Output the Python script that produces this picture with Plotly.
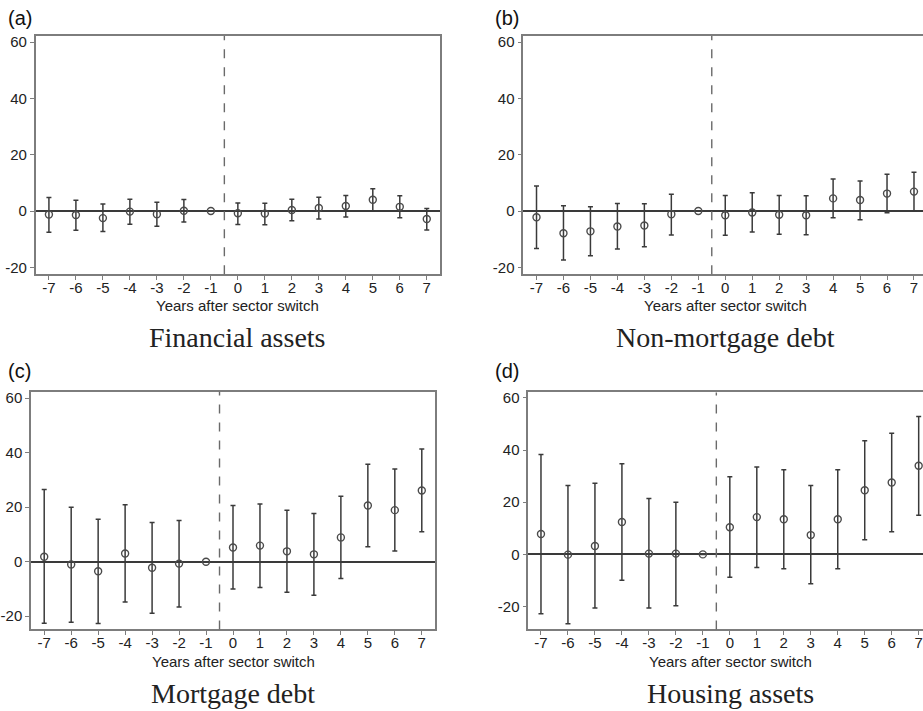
import plotly.graph_objects as go

W, H = 923, 711

years = [-7, -6, -5, -4, -3, -2, -1, 0, 1, 2, 3, 4, 5, 6, 7]

# Panel (a) Financial assets
fin_est = [-1.2, -1.4, -2.5, -0.2, -1.1, 0.1, 0.0, -0.8, -0.9, 0.4, 1.1, 1.8, 4.0, 1.5, -2.8]
fin_hi = [4.8, 3.8, 2.5, 4.2, 3.1, 4.1, 0.0, 2.9, 2.8, 4.2, 4.9, 5.5, 7.9, 5.4, 0.9]
fin_lo = [-7.5, -6.8, -7.3, -4.7, -5.4, -3.9, 0.0, -4.8, -4.9, -3.4, -2.8, -2.1, 0.0, -2.4, -6.7]

# Panel (b) Non-mortgage debt
nmd_est = [-2.2, -7.9, -7.2, -5.5, -5.1, -1.1, 0.0, -1.5, -0.5, -1.3, -1.5, 4.5, 3.9, 6.2, 6.9]
nmd_hi = [8.9, 1.9, 1.5, 2.7, 2.6, 6.0, 0.0, 5.5, 6.5, 5.5, 5.4, 11.4, 10.7, 13.1, 13.8]
nmd_lo = [-13.3, -17.4, -15.9, -13.5, -12.7, -8.5, 0.0, -8.6, -7.4, -8.2, -8.4, -2.4, -3.1, -0.6, 0.0]

# Panel (c) Mortgage debt
mor_est = [1.8, -1.0, -3.5, 3.0, -2.2, -0.7, 0.0, 5.2, 5.9, 3.8, 2.7, 8.9, 20.6, 18.9, 26.1]
mor_hi = [26.5, 20.0, 15.6, 20.9, 14.4, 15.1, 0.0, 20.6, 21.2, 18.9, 17.7, 24.0, 35.7, 34.0, 41.3]
mor_lo = [-22.6, -22.2, -22.7, -14.8, -18.9, -16.6, 0.0, -10.0, -9.5, -11.2, -12.3, -6.2, 5.5, 3.9, 11.0]

# Panel (d) Housing assets
hou_est = [7.8, -0.1, 3.2, 12.4, 0.3, 0.3, 0.0, 10.4, 14.3, 13.5, 7.4, 13.5, 24.6, 27.6, 34.0]
hou_hi = [38.3, 26.4, 27.3, 34.8, 21.4, 20.0, 0.0, 29.8, 33.5, 32.5, 26.4, 32.5, 43.6, 46.5, 52.9]
hou_lo = [-22.8, -26.6, -20.6, -9.9, -20.6, -19.7, 0.0, -8.8, -5.0, -5.5, -11.3, -5.5, 5.6, 8.7, 15.0]

y_ticks = [-20, 0, 20, 40, 60]
y_ticktext = ["-20", "0", "20", "40", "60"]
x_ticktext = ["-7", "-6", "-5", "-4", "-3", "-2", "-1", "0", "1", "2", "3", "4", "5", "6", "7"]
panel_letters = ["(a)", "(b)", "(c)", "(d)"]
panel_titles = ["Financial assets", "Non-mortgage debt", "Mortgage debt", "Housing assets"]
x_title = "Years after sector switch"

FRAME = "#7d7d7d"
DARK = "#3a3a3a"
SANS = "Liberation Sans, Arial, sans-serif"
SERIF = "Liberation Serif, Times New Roman, serif"

panels = [
    dict(est=fin_est, hi=fin_hi, lo=fin_lo, px=(35.7, 440.0), py=(33.3, 272.7),
         xr=[-7.49, 7.49], yr=[-22.4, 62.1], right=True),
    dict(est=nmd_est, hi=nmd_hi, lo=nmd_lo, px=(523.3, 923.0), py=(33.3, 272.7),
         xr=[-7.49, 7.334], yr=[-22.4, 62.1], right=False),
    dict(est=mor_est, hi=mor_hi, lo=mor_lo, px=(31.0, 435.0), py=(391.0, 630.0),
         xr=[-7.49, 7.49], yr=[-24.85, 62.3], right=True),
    dict(est=hou_est, hi=hou_hi, lo=hou_lo, px=(528.3, 923.0), py=(391.7, 630.0),
         xr=[-7.47, 7.16], yr=[-28.8, 62.1], right=False),
]

fig = go.Figure()
layout = dict(width=W, height=H, margin=dict(l=0, r=0, t=0, b=0),
              paper_bgcolor="white", plot_bgcolor="white", showlegend=False,
              shapes=[], annotations=[])

for i, p in enumerate(panels):
    n = i + 1
    xa = "x" if n == 1 else f"x{n}"
    ya = "y" if n == 1 else f"y{n}"
    plus = [h - e for h, e in zip(p["hi"], p["est"])]
    minus = [e - l for e, l in zip(p["est"], p["lo"])]
    fig.add_trace(go.Scatter(
        x=years, y=p["est"], mode="markers", xaxis=xa, yaxis=ya,
        marker=dict(symbol="circle-open", size=7, color="#4a4a4a", line=dict(width=1.4)),
        error_y=dict(type="data", symmetric=False, array=plus, arrayminus=minus,
                     color=DARK, thickness=1.5, width=2.5),
        cliponaxis=False,
    ))
    x0, x1 = p["px"]
    top, bot = p["py"]
    xd = [x0 / W, x1 / W]
    yd = [1 - bot / H, 1 - top / H]
    layout["xaxis" if n == 1 else f"xaxis{n}"] = dict(
        domain=xd, range=p["xr"], anchor=ya, tickmode="array", tickvals=years,
        ticktext=x_ticktext, showgrid=False, zeroline=False,
        showline=True, linecolor=FRAME, linewidth=1.5, mirror=True,
        ticks="outside", ticklen=4, tickcolor=FRAME, tickwidth=1,
        ticklabelstandoff=-5,
        tickfont=dict(family=SANS, size=15, color="#222222"), fixedrange=True)
    layout["yaxis" if n == 1 else f"yaxis{n}"] = dict(
        domain=yd, range=p["yr"], anchor=xa, tickmode="array", tickvals=y_ticks,
        ticktext=y_ticktext,
        showgrid=False, zeroline=True, zerolinecolor=DARK, zerolinewidth=1.5,
        showline=True, linecolor=FRAME, linewidth=1.5, mirror=p["right"],
        ticks="outside", ticklen=4, tickcolor=FRAME, tickwidth=1,
        tickfont=dict(family=SANS, size=15, color="#222222"), fixedrange=True)
    layout["shapes"].append(dict(type="line", xref=xa, yref=f"{ya} domain",
                                 x0=-0.5, x1=-0.5, y0=0, y1=1,
                                 line=dict(color="#6a6a6a", width=1.4, dash="dash")))
    cx = (x0 + (x0 + 404.3)) / 2
    layout["annotations"].append(dict(text=x_title, x=cx / W, y=1 - (bot + 32) / H,
                                      xref="paper", yref="paper", showarrow=False,
                                      xanchor="center", yanchor="middle",
                                      font=dict(family=SANS, size=15, color="#222222")))
    layout["annotations"].append(dict(text=panel_titles[i], x=cx / W, y=1 - (bot + 64) / H,
                                      xref="paper", yref="paper", showarrow=False,
                                      xanchor="center", yanchor="middle",
                                      font=dict(family=SERIF, size=28, color="#222222")))
    lx = 6 if n in (1, 3) else 493
    ly = 15 if n in (1, 2) else 370
    layout["annotations"].append(dict(text=panel_letters[i], x=lx / W, y=1 - ly / H,
                                      xref="paper", yref="paper", showarrow=False,
                                      xanchor="left", yanchor="middle",
                                      font=dict(family=SANS, size=20, color="#111111")))

fig.update_layout(**layout)
fig.write_html("out.html")
